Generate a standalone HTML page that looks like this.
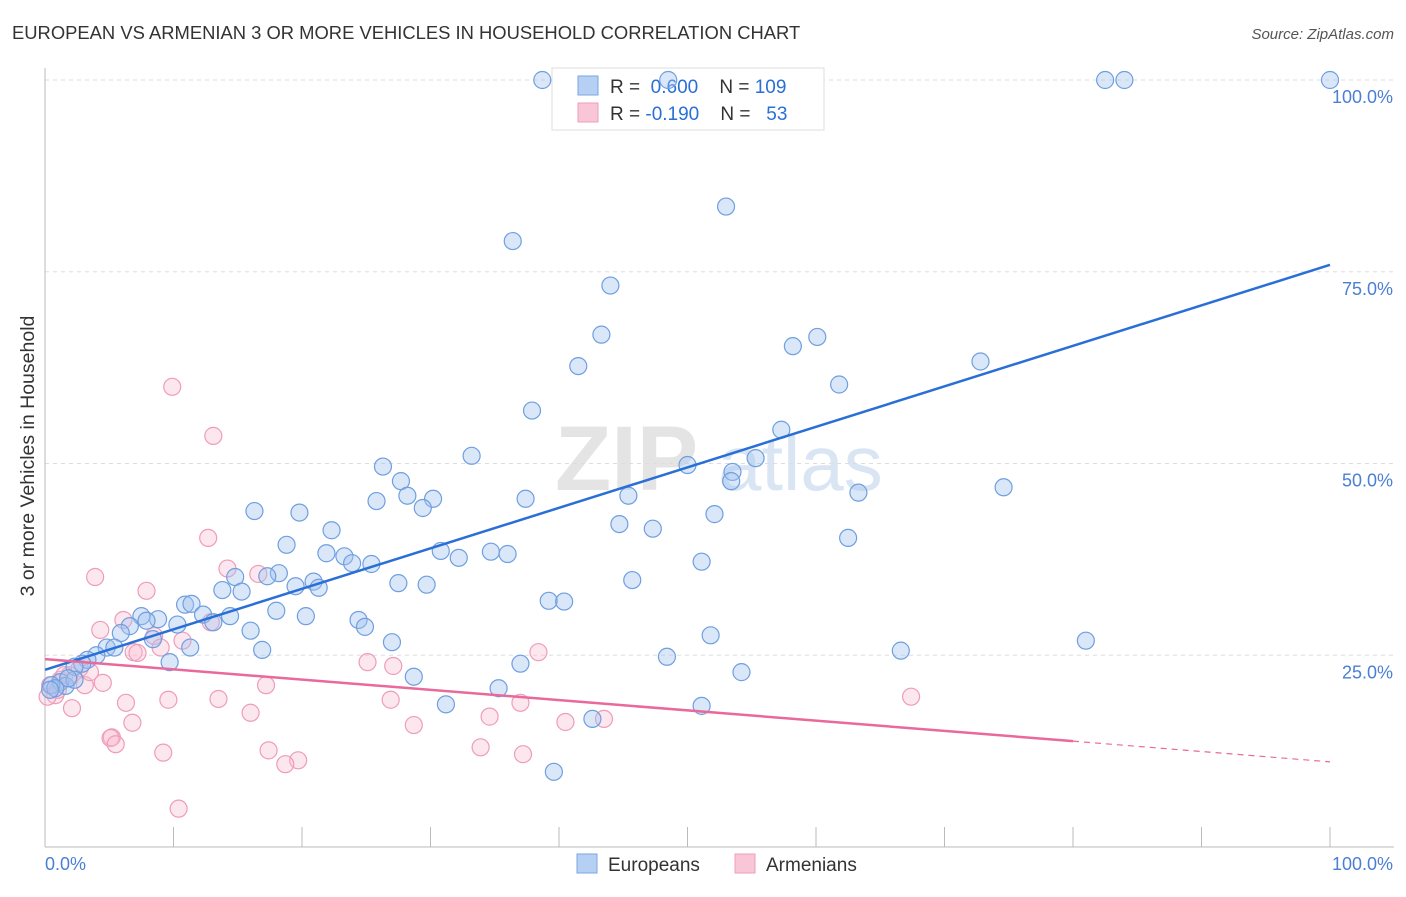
<!DOCTYPE html>
<html><head><meta charset="utf-8"><style>
body{margin:0;background:#fff;font-family:"Liberation Sans",sans-serif;}
svg text{font-family:"Liberation Sans",sans-serif;}
</style></head><body>
<svg id="chart" width="1406" height="892">
<text x="12" y="39" font-size="18.4" fill="#333">EUROPEAN VS ARMENIAN 3 OR MORE VEHICLES IN HOUSEHOLD CORRELATION CHART</text>
<text x="1394" y="39" font-size="15" fill="#555" font-style="italic" text-anchor="end">Source: ZipAtlas.com</text>
<g><text x="555" y="490" font-size="92" fill="#e4e4e4" font-family="Liberation Serif" font-weight="bold">ZIP</text><text x="718" y="490" font-size="78" fill="#d9e5f3">atlas</text></g>
<g id="grid"></g><g id="axes"></g>
<g>
<rect x="552" y="68" width="272" height="62" fill="#fff" stroke="#ddd"/>
<rect x="578" y="76" width="20" height="19" fill="#b6d0f3" stroke="#7aa6e3"/>
<rect x="578" y="103" width="20" height="19" fill="#f8c6d6" stroke="#ee9fba"/>
<text x="610" y="93" font-size="19" fill="#333">R = <tspan fill="#2a6fd6">&#160;0.600</tspan>&#160;&#160;&#160; N = <tspan fill="#2a6fd6">109</tspan></text>
<text x="610" y="120" font-size="19" fill="#333">R = <tspan fill="#2a6fd6">-0.190</tspan>&#160;&#160;&#160; N = <tspan fill="#2a6fd6">&#160;&#160;53</tspan></text>
</g>
<g id="marks"></g>
<text transform="translate(34,456) rotate(-90)" font-size="19.5" fill="#333" text-anchor="middle">3 or more Vehicles in Household</text>
<g>
<rect x="577" y="854" width="20" height="19" fill="#b6d0f3" stroke="#7aa6e3"/>
<text x="608" y="871" font-size="19" fill="#333">Europeans</text>
<rect x="735" y="854" width="20" height="19" fill="#f8c6d6" stroke="#ee9fba"/>
<text x="766" y="871" font-size="19" fill="#333">Armenians</text>
</g>
</svg>
<script>
const yTicks=[25,50,75,100];
const yTickLabels=["25.0%","50.0%","75.0%","100.0%"];
const xTicks=[0,10,20,30,40,50,60,70,80,90,100];
const blueX=[38.7,48.5,82.5,84.0,100,53.0,36.4,44.0,43.3,41.5,58.2,60.1,61.8,72.8,37.9,57.3,74.6,63.3,55.3,53.5,53.4,50.0,45.4,33.2,26.3,27.7,28.2,30.2,29.4,25.8,37.4,52.1,44.7,47.3,62.5,16.3,19.8,22.3,18.8,21.9,23.3,23.9,25.4,30.8,32.2,34.7,36.0,51.1,45.7,27.5,29.7,20.9,19.5,21.3,18.2,17.3,14.8,13.8,15.3,18.0,20.3,39.2,40.4,10.9,11.4,8.8,7.5,7.9,12.3,14.4,13.1,10.3,6.6,5.9,16.0,24.4,24.9,8.4,11.3,4.8,5.4,27.0,51.8,81.0,66.6,48.4,16.9,4.0,3.3,2.9,2.3,9.7,37.0,54.2,28.7,35.3,31.2,51.1,42.6,39.6,1.2,1.6,2.3,1.8,0.5,0.8,0.4];
const blueY=[100,100,100,100,100,83.5,79.0,73.2,66.8,62.7,65.3,66.5,60.3,63.3,56.9,54.4,46.9,46.2,50.7,48.9,47.7,49.8,45.8,51.0,49.6,47.7,45.8,45.4,44.2,45.1,45.4,43.4,42.1,41.5,40.3,43.8,43.6,41.3,39.4,38.3,37.9,37.0,36.9,38.6,37.7,38.5,38.2,37.2,34.8,34.4,34.2,34.6,34.0,33.8,35.7,35.3,35.2,33.5,33.3,30.8,30.1,32.1,32.0,31.6,31.7,29.7,30.1,29.5,30.3,30.1,29.3,29.0,28.8,27.9,28.2,29.6,28.7,27.1,26.0,26.0,26.0,26.7,27.6,26.9,25.6,24.8,25.7,25.0,24.4,23.9,23.5,24.1,23.9,22.8,22.2,20.7,18.6,18.4,16.7,9.8,21.5,21.0,21.8,22.0,21.1,20.7,20.5];
const pinkX=[9.9,13.1,12.7,3.9,7.9,14.2,16.6,6.1,4.3,8.5,10.7,9.0,6.9,7.2,12.9,38.4,25.1,27.1,17.2,4.5,3.1,1.2,1.9,2.7,0.8,0.2,9.6,13.5,26.9,37.0,6.3,2.1,67.4,16.0,6.8,28.7,34.6,40.5,43.5,5.2,5.1,5.5,9.2,17.4,19.7,18.7,33.9,37.2,10.4,0.4,1.0,1.5,3.5];
const pinkY=[60.0,53.6,40.3,35.2,33.4,36.3,35.6,29.6,28.3,27.5,26.9,26.0,25.4,25.3,29.3,25.4,24.1,23.6,21.1,21.4,21.1,21.8,22.4,23.3,19.8,19.6,19.2,19.3,19.2,18.8,18.8,18.1,19.6,17.5,16.2,15.9,17.0,16.3,16.7,14.3,14.2,13.4,12.3,12.6,11.3,10.8,13.0,12.1,5.0,21.1,20.5,22.4,22.8];
const blueTrendX=[0,100], blueTrendY=[23.1,75.9];
const pinkTrendX=[0,80,100], pinkTrendY=[24.5,13.8,11.1];

const NS="http://www.w3.org/2000/svg";
const X0=45,X1=1330,Y0=847,Y100=80;
const sx=v=>X0+(X1-X0)*v/100;
const sy=v=>Y0-(Y0-Y100)*v/100;
function mk(tag,attrs,parent){const e=document.createElementNS(NS,tag);for(const k in attrs)e.setAttribute(k,attrs[k]);document.getElementById(parent).appendChild(e);return e;}
yTicks.forEach((t,i)=>{
 const g=mk('line',{x1:45,x2:1394,y1:sy(t),y2:sy(t),stroke:'#ddd','stroke-dasharray':'4,4'},'grid');
 
 
 const l=mk('text',{x:1393,y:sy(t)+23,'font-size':18,fill:'#4a7fd4','text-anchor':'end'},'grid');
 l.textContent=yTickLabels[i];
 
 
});
const ya=mk('line',{x1:45,x2:45,y1:68,y2:847,stroke:'#bbb'},'axes');


const xa=mk('line',{x1:45,x2:1394,y1:847,y2:847,stroke:'#bbb'},'axes');


xTicks.forEach(t=>{
 const tk=mk('line',{x1:sx(t),x2:sx(t),y1:827,y2:847,stroke:'#bbb'},'axes');
 
 
});
const xl0=mk('text',{x:45,y:870,'font-size':18,fill:'#4a7fd4'},'axes');xl0.textContent='0.0%';


const xl1=mk('text',{x:1393,y:870,'font-size':18,fill:'#4a7fd4','text-anchor':'end'},'axes');xl1.textContent='100.0%';


pinkX.forEach((x,i)=>{
 const c=mk('circle',{cx:sx(x),cy:sy(pinkY[i]),r:8.5,fill:'rgba(248,185,208,0.35)',stroke:'#ef9cb9','stroke-width':1.2},'marks');
 
 
});
blueX.forEach((x,i)=>{
 const c=mk('circle',{cx:sx(x),cy:sy(blueY[i]),r:8.5,fill:'rgba(160,196,240,0.4)',stroke:'#6f9fe0','stroke-width':1.2},'marks');
 
 
});
const bl=mk('line',{x1:sx(blueTrendX[0]),y1:sy(blueTrendY[0]),x2:sx(blueTrendX[1]),y2:sy(blueTrendY[1]),stroke:'#2a6fd6','stroke-width':2.5},'marks');


const pl=mk('line',{x1:sx(pinkTrendX[0]),y1:sy(pinkTrendY[0]),x2:sx(pinkTrendX[1]),y2:sy(pinkTrendY[1]),stroke:'#e8699a','stroke-width':2.5},'marks');


const pd=mk('line',{x1:sx(pinkTrendX[1]),y1:sy(pinkTrendY[1]),x2:sx(pinkTrendX[2]),y2:sy(pinkTrendY[2]),stroke:'#e8699a','stroke-width':1.2,'stroke-dasharray':'6,5'},'marks');


</script>
</body></html>
